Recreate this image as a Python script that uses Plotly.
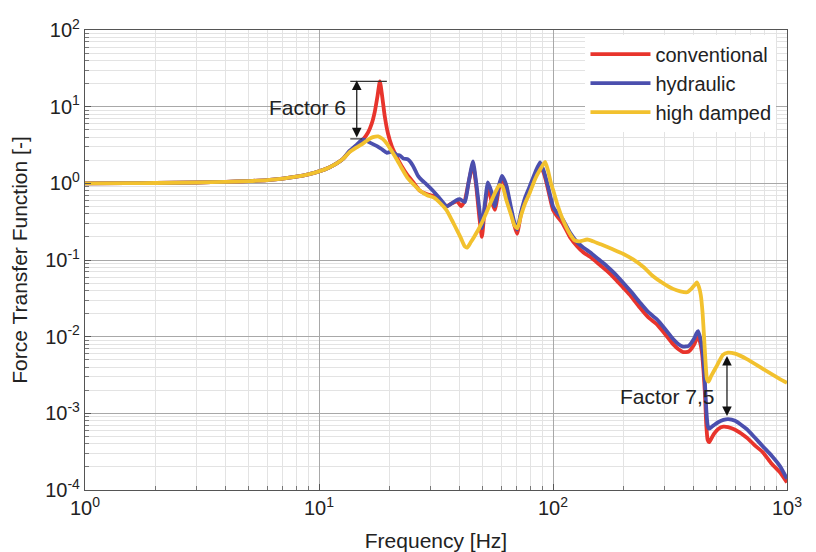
import numpy as np
import plotly.graph_objects as go

# ---- data ----
f_low = [1, 1.5, 2, 3, 4, 5, 6, 7, 8, 9, 10, 11, 12, 12.7]
v_low = [1.0, 1.005, 1.01, 1.025, 1.045, 1.07, 1.1, 1.15, 1.22, 1.31, 1.43, 1.6, 1.85, 2.1]

f_conv = f_low + [13.5, 14.5, 15.4, 16.2, 16.8, 17.3, 17.8, 18.2, 18.6, 19.1, 19.7, 20.5, 21.5, 22.5,
                  23.8, 25.5, 27, 29, 31, 33, 35, 37, 39, 40.5, 42, 43.5, 45.5, 47, 48.5, 49.7, 51,
                  52.7, 54.5, 56.4, 58.5, 60.5, 62, 63.4, 66, 68, 70.2, 73, 76, 79.5, 84, 88, 91,
                  94.3, 97, 100, 105, 110, 118, 127, 135, 144, 156, 170, 185, 199, 215, 235, 255,
                  278, 300, 326, 345, 360, 380, 400, 410, 417, 425, 433, 440, 446, 452, 458, 465,
                  475, 490, 510, 535, 560, 600, 674, 730, 789, 860, 933, 1000]
v_conv = v_low + [2.6, 3.1, 3.7, 4.6, 6.0, 8.5, 14, 21.4, 14, 7.5, 4.5, 3.0, 2.2, 1.7,
                  1.3, 1.0, 0.8, 0.72, 0.68, 0.58, 0.5, 0.55, 0.58, 0.5, 0.6, 1.0, 1.77, 0.9, 0.35,
                  0.2, 0.45, 0.89, 0.6, 0.45, 0.8, 1.2, 1.0, 0.8, 0.45, 0.3, 0.22, 0.4, 0.6, 0.85,
                  1.3, 1.7, 1.4, 0.95, 0.65, 0.45, 0.36, 0.3, 0.2, 0.15, 0.125, 0.11, 0.09, 0.072,
                  0.056, 0.044, 0.034, 0.024, 0.018, 0.0145, 0.011, 0.008, 0.0068, 0.0063, 0.0064,
                  0.0078, 0.0092, 0.0101, 0.0085, 0.0062, 0.0035, 0.0018, 0.0007, 0.00045,
                  0.00042, 0.00047, 0.00055, 0.00063, 0.00067, 0.00066, 0.00061, 0.00048,
                  0.00038, 0.00031, 0.00022, 0.00017, 0.000125]

f_hyd = f_low + [13.5, 14.5, 15.4, 16.5, 17.7, 18.5, 19.5, 20.5, 21.5, 22.2, 23, 24, 25.2, 26.5,
                 27.5, 28.8, 30.7, 33, 35.2, 37, 38.5, 40, 42, 43.5, 45.5, 47, 48.5, 49.7, 51,
                 52.7, 54.7, 56.4, 58.5, 60.5, 62, 63.4, 66, 68, 70.2, 73, 76, 79.5, 84, 88, 91,
                 94.3, 97, 100, 105, 110, 118, 127, 135, 144, 156, 170, 185, 199, 215, 235, 255,
                 278, 300, 326, 345, 360, 380, 400, 410, 417, 425, 433, 440, 446, 452, 458, 465,
                 475, 490, 510, 535, 560, 600, 674, 730, 789, 860, 933, 1000]
v_hyd = v_low + [2.65, 3.2, 3.75, 3.4, 3.05, 2.8, 2.5, 2.6, 2.35, 2.3, 2.1, 2.05, 1.7, 1.25,
                 1.1, 0.97, 0.8, 0.62, 0.5, 0.55, 0.6, 0.62, 0.57, 1.0, 1.93, 1.0, 0.45, 0.26, 0.5,
                 1.03, 0.76, 0.5, 0.9, 1.25, 1.1, 0.91, 0.5, 0.33, 0.25, 0.42, 0.65, 0.91, 1.4,
                 1.88, 1.5, 1.03, 0.72, 0.5, 0.4, 0.34, 0.23, 0.17, 0.145, 0.126, 0.103, 0.083,
                 0.065, 0.051, 0.039, 0.028, 0.021, 0.0168, 0.0128, 0.0093, 0.0079, 0.0074,
                 0.0076, 0.0093, 0.011, 0.0118, 0.0098, 0.0074, 0.0045, 0.0025, 0.0011, 0.0007,
                 0.00063, 0.00066, 0.00071, 0.00077, 0.00082, 0.00084, 0.0008, 0.00062, 0.00048,
                 0.00037, 0.00028, 0.000205, 0.00014]

f_high = f_low + [13.5, 14.5, 15.4, 16.2, 17, 17.9, 18.7, 19.5, 20.5, 21.5, 22.5, 23.8, 25.5, 27,
                  29, 31, 33, 35, 37, 39, 40.5, 42, 43, 44.5, 46, 48, 50, 52, 54, 56.5, 59, 61, 63,
                  66, 68.5, 70.5, 73, 76, 79.5, 84, 88, 92.5, 95, 98, 100, 105, 110, 118, 124, 130,
                  140, 148, 160, 180, 200, 220, 245, 267, 295, 326, 350, 374, 390, 405, 412, 420,
                  428, 436, 442, 448, 455, 462, 475, 502, 532, 560, 600, 674, 789, 933, 1000]
v_high = v_low + [2.55, 2.95, 3.3, 3.7, 4.0, 4.1, 3.8, 3.3, 2.6, 2.05, 1.6, 1.2, 0.95, 0.8,
                  0.7, 0.65, 0.55, 0.45, 0.33, 0.24, 0.19, 0.15, 0.145, 0.17, 0.2, 0.25, 0.32,
                  0.42, 0.55, 0.75, 0.95, 0.9, 0.62, 0.4, 0.28, 0.26, 0.38, 0.55, 0.75, 1.15, 1.5,
                  1.9, 1.5, 1.0, 0.83, 0.5, 0.34, 0.22, 0.18, 0.175, 0.185, 0.176, 0.16, 0.138,
                  0.12, 0.102, 0.08, 0.062, 0.05, 0.042, 0.039, 0.038, 0.042, 0.048, 0.051, 0.045,
                  0.035, 0.02, 0.01, 0.005, 0.0028, 0.0026, 0.0031, 0.0042, 0.0058, 0.0062, 0.006,
                  0.0051, 0.0038, 0.0028, 0.0025]

series_names = ["conventional", "hydraulic", "high damped"]
series_colors = ["#e8342c", "#4b4fae", "#f2c12e"]

x_tick_vals = [1, 10, 100, 1000]
x_tick_text = ["10<sup>0</sup>", "10<sup>1</sup>", "10<sup>2</sup>", "10<sup>3</sup>"]
y_tick_vals = [1e-4, 1e-3, 1e-2, 1e-1, 1, 10, 100]
y_tick_text = ["10<sup>-4</sup>", "10<sup>-3</sup>", "10<sup>-2</sup>", "10<sup>-1</sup>",
               "10<sup>0</sup>", "10<sup>1</sup>", "10<sup>2</sup>"]

# annotation values
f6_x = 14.5
f6_top, f6_bot = 22.0, 3.8
f75_x = 554
f75_top, f75_bot = 0.0056, 0.00088

# ---- figure ----
fig = go.Figure()
for fx, vy, name, col in zip([f_conv, f_hyd, f_high], [v_conv, v_hyd, v_high],
                             series_names, series_colors):
    fig.add_trace(go.Scatter(x=fx, y=vy, mode="lines", name=name,
                             line=dict(color=col, width=3.8, shape="spline", smoothing=0.5)))

minor_x = [m * 10 ** d for d in range(0, 3) for m in range(2, 10)]
minor_y = [m * 10.0 ** d for d in range(-4, 2) for m in range(2, 10)]

axis_common = dict(showline=True, mirror=True, linecolor="#555555", linewidth=1.2,
                   gridcolor="#a8a8a8", gridwidth=1, ticks="inside", ticklen=6,
                   tickcolor="#555555", zeroline=False, automargin=False,
                   tickfont=dict(size=20, color="#222222"))

fig.update_xaxes(type="log", range=[0, 3], tickmode="array", tickvals=x_tick_vals,
                 ticktext=x_tick_text,
                 title=dict(text="Frequency [Hz]", font=dict(size=21, color="#222222"), standoff=15),
                 minor=dict(tickmode="array", tickvals=minor_x, ticks="inside", ticklen=4,
                            tickcolor="#777777", showgrid=True, gridcolor="#e3e3e3"),
                 **axis_common)
fig.update_yaxes(type="log", range=[-4, 2], tickmode="array", tickvals=y_tick_vals,
                 ticktext=y_tick_text,
                 title=dict(text="Force Transfer Function [-]", font=dict(size=21, color="#222222"),
                            standoff=17),
                 minor=dict(tickmode="array", tickvals=minor_y, ticks="inside", ticklen=4,
                            tickcolor="#777777", showgrid=True, gridcolor="#e3e3e3"),
                 **axis_common)

# Factor 6 markers
fig.add_shape(type="line", xref="x", yref="y", x0=13.6, x1=19.5, y0=21.4, y1=21.4,
              line=dict(color="#333333", width=1.2))
fig.add_shape(type="line", xref="x", yref="y", x0=13.6, x1=15.3, y0=f6_bot, y1=f6_bot,
              line=dict(color="#333333", width=1.2))
fig.add_annotation(x=np.log10(f6_x), y=np.log10(f6_top), ax=np.log10(f6_x), ay=np.log10(f6_bot),
                   xref="x", yref="y", axref="x", ayref="y", text="", showarrow=True,
                   arrowhead=2, startarrowhead=2, arrowside="end+start", arrowsize=1.6,
                   arrowwidth=1.2, arrowcolor="#111111")
fig.add_annotation(x=np.log10(13.3), y=np.log10(9.8), xref="x", yref="y", text="Factor 6",
                   showarrow=False, xanchor="right", yanchor="middle",
                   font=dict(size=21, color="#222222"))

# Factor 7,5 markers
fig.add_annotation(x=np.log10(f75_x), y=np.log10(f75_top), ax=np.log10(f75_x),
                   ay=np.log10(f75_bot), xref="x", yref="y", axref="x", ayref="y", text="",
                   showarrow=True, arrowhead=2, startarrowhead=2, arrowside="end+start",
                   arrowsize=1.6, arrowwidth=1.2, arrowcolor="#111111")
fig.add_annotation(x=np.log10(500), y=np.log10(0.00168), xref="x", yref="y", text="Factor 7,5",
                   showarrow=False, xanchor="right", yanchor="middle",
                   font=dict(size=21, color="#222222"))

fig.update_layout(
    width=816, height=552,
    margin=dict(l=77, r=37, t=22, b=70),
    paper_bgcolor="white", plot_bgcolor="white",
    font=dict(family="Liberation Sans, Arial, sans-serif", color="#222222"),
    legend=dict(x=0.985, y=0.99, xanchor="right", yanchor="top", bgcolor="white",
                borderwidth=0, font=dict(size=20, color="#222222"), itemwidth=60,
                tracegroupgap=0),
    showlegend=True,
)

fig.write_html("out.html")
